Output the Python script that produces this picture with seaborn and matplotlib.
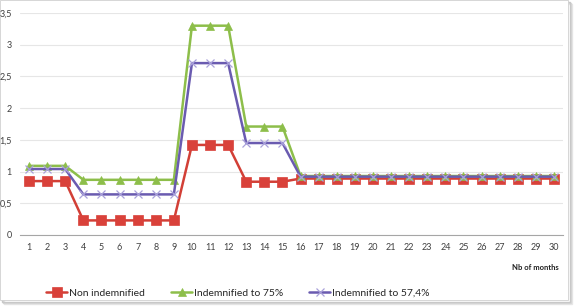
import numpy as np
import pandas as pd
import matplotlib
matplotlib.use("Agg")
import matplotlib.pyplot as plt
import seaborn as sns
from matplotlib.patches import Rectangle

# data
months = list(range(1, 31))
non_indemn = [0.85] * 3 + [0.23] * 6 + [1.42] * 3 + [0.84] * 3 + [0.89] * 15
indemn_75 = [1.09] * 3 + [0.87] * 6 + [3.30] * 3 + [1.71] * 3 + [0.93] * 15
indemn_574 = [1.04] * 3 + [0.64] * 6 + [2.71] * 3 + [1.45] * 3 + [0.92] * 15

series_names = ["Non indemnified", "Indemnified to 75%", "Indemnified to 57,4%"]
colors = ["#D23F36", "#8DBE4A", "#6A5BB0"]
marker_colors = ["#D9413A", "#8DBE4A", "#A9A1DA"]
markers = ["s", "^", "x"]

df = pd.DataFrame({
    "month": months * 3,
    "value": non_indemn + indemn_75 + indemn_574,
    "series": [series_names[0]] * 30 + [series_names[1]] * 30 + [series_names[2]] * 30,
})

sns.set_style("white")
plt.rcParams["font.family"] = ["Lato", "DejaVu Sans"]

fig = plt.figure(figsize=(5.82, 3.08), dpi=100)
ax = fig.add_axes([20 / 582, 1 - 235 / 308, 543 / 582, 222 / 308])

for name, col, mcol, mk in zip(series_names, colors, marker_colors, markers):
    sub = df[df["series"] == name]
    sns.lineplot(data=sub, x="month", y="value", ax=ax, color=col, linewidth=1.8,
                 marker=mk, markersize=6.5 if mk == "s" else 6,
                 markerfacecolor=mcol, markeredgecolor=mcol,
                 markeredgewidth=0.9 if mk == "x" else 0.5, label=name, legend=False)

ax.set_xlim(0.5, 30.5)
ax.set_ylim(0, 3.5)
ax.set_xticks(months)
ax.set_xticklabels([str(m) for m in months], fontsize=6.5, color="#404040")
ax.set_yticks(np.arange(0, 3.51, 0.5))
ax.set_yticklabels(["0", "0,5", "1", "1,5", "2", "2,5", "3", "3,5"], fontsize=6.5, color="#404040")
ax.tick_params(axis="both", length=0, pad=6)
ax.yaxis.grid(True, color="#E6E6E6", linewidth=0.8)
ax.set_axisbelow(True)
for s in ["top", "right", "left"]:
    ax.spines[s].set_visible(False)
ax.spines["bottom"].set_color("#A6A6A6")
ax.spines["bottom"].set_linewidth(0.8)
ax.set_xlabel("")
ax.set_ylabel("")

fig.text(535 / 582, 1 - 268 / 308, "Nb of months", fontsize=5.5, fontweight="bold",
         ha="center", va="center", color="#202020")

handles, labels = ax.get_legend_handles_labels()
fig.legend(handles, labels, loc="center", bbox_to_anchor=(238 / 582, 1 - 293 / 308), ncol=3,
           frameon=False, fontsize=7.5, handlelength=2.0, handletextpad=0.2,
           columnspacing=2.5)

# frame with a soft shadow
for off, c in [(4, "#E8E8E8"), (3, "#D8D8D8"), (2, "#C8C8C8")]:
    fig.add_artist(Rectangle((off / 582, -off / 308 + 8 / 308), 1 - 14 / 582, 1 - 8 / 308,
                             transform=fig.transFigure, fill=False, edgecolor=c,
                             linewidth=1.0, zorder=-1))
fig.add_artist(Rectangle((0, 8 / 308), 1 - 14 / 582, 1 - 8 / 308, transform=fig.transFigure,
                         facecolor="white", edgecolor="#D0D0D0", linewidth=0.6, zorder=-0.5))

fig.savefig("out.png", dpi=100)
